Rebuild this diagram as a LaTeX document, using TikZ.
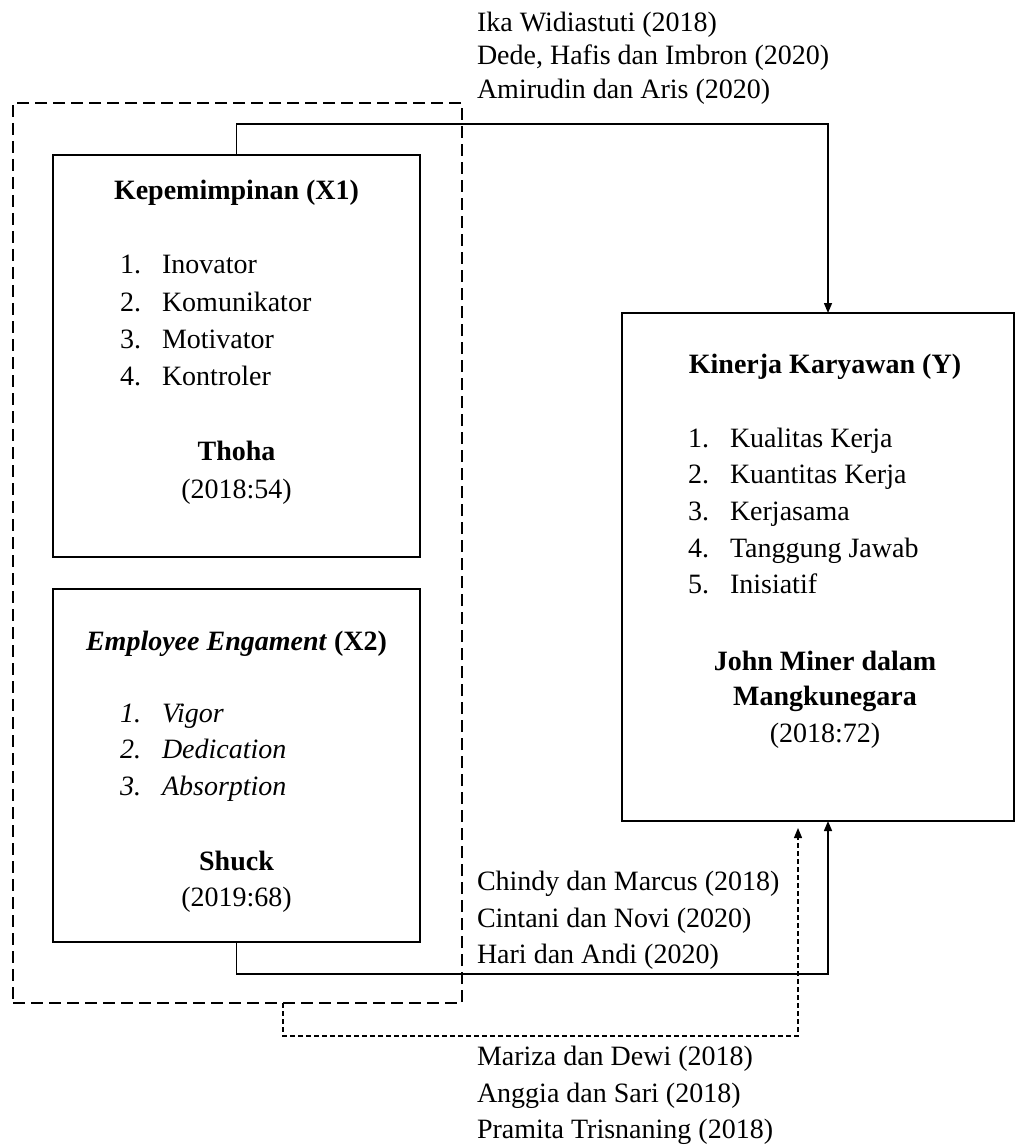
\documentclass[tikz,border=0pt]{standalone}
\usepackage{fontspec}
\setmainfont{Liberation Serif}
\usetikzlibrary{arrows.meta}
\newcommand{\num}[1]{\makebox[42pt][l]{#1}}
\begin{document}
\begin{tikzpicture}[x=1pt,y=-1pt,
  every node/.style={font=\fontsize{28}{34}\selectfont, inner sep=0pt, outer sep=0pt},
  boxnode/.style={draw=black, line width=1.5pt, rectangle},
  dbox/.style={draw=black, line width=1.3pt, dash pattern=on 12pt off 6pt, rectangle},
  lbl/.style={anchor=base west},
  ctr/.style={anchor=base},
  conn/.style={draw=black, line width=1.5pt},
  dconn/.style={draw=black, line width=1.2pt, dash pattern=on 5pt off 3pt},
  tip/.style={-{Triangle[length=10pt,width=8pt]}}
]
\useasboundingbox (0,0) rectangle (1025,1147);

% boxes
\node[dbox, minimum width=449pt, minimum height=900pt] (dgroup) at (237.5,553) {};
\node[boxnode, minimum width=367pt, minimum height=402pt] (x1) at (236.5,356) {};
\node[boxnode, minimum width=367pt, minimum height=353pt] (x2) at (236.5,765.5) {};
\node[boxnode, minimum width=392pt, minimum height=508pt] (y) at (818,567) {};

% X1 content
\node[ctr] (x1t) at (236.5,200) {\textbf{Kepemimpinan (X1)}};
\node[lbl] (x1a) at (120,273) {\num{1.}Inovator};
\node[lbl] (x1b) at (120,311) {\num{2.}Komunikator};
\node[lbl] (x1c) at (120,348) {\num{3.}Motivator};
\node[lbl] (x1d) at (120,385) {\num{4.}Kontroler};
\node[ctr] (x1s) at (236.5,460) {\textbf{Thoha}};
\node[ctr] (x1y) at (236.5,498) {(2018:54)};

% X2 content
\node[ctr] (x2t) at (236.5,650) {\textbf{\textit{Employee Engament} (X2)}};
\node[lbl] (x2a) at (120,722) {\itshape\num{1.}Vigor};
\node[lbl] (x2b) at (120,758) {\itshape\num{2.}Dedication};
\node[lbl] (x2c) at (120,795) {\itshape\num{3.}Absorption};
\node[ctr] (x2s) at (236.5,870) {\textbf{Shuck}};
\node[ctr] (x2y) at (236.5,906) {(2019:68)};

% Y content
\node[ctr] (yt) at (825,373) {\textbf{Kinerja Karyawan (Y)}};
\node[lbl] (ya) at (688,447) {\num{1.}Kualitas Kerja};
\node[lbl] (yb) at (688,483) {\num{2.}Kuantitas Kerja};
\node[lbl] (yc) at (688,520) {\num{3.}Kerjasama};
\node[lbl] (yd) at (688,557) {\num{4.}Tanggung Jawab};
\node[lbl] (ye) at (688,593) {\num{5.}Inisiatif};
\node[ctr] (ys1) at (825,670) {\textbf{John Miner dalam}};
\node[ctr] (ys2) at (825,705) {\textbf{Mangkunegara}};
\node[ctr] (yy) at (825,742) {(2018:72)};

% reference labels
\node[lbl] (r1) at (477,32) {Ika Widiastuti (2018)};
\node[lbl] (r2) at (477,65) {Dede, Hafis dan Imbron (2020)};
\node[lbl] (r3) at (477,99) {Amirudin dan Aris (2020)};
\node[lbl] (r4) at (477,890) {Chindy dan Marcus (2018)};
\node[lbl] (r5) at (477,927) {Cintani dan Novi (2020)};
\node[lbl] (r6) at (477,963) {Hari dan Andi (2020)};
\node[lbl] (r7) at (477,1065) {Mariza dan Dewi (2018)};
\node[lbl] (r8) at (477,1102) {Anggia dan Sari (2018)};
\node[lbl] (r9) at (477,1138) {Pramita Trisnaning (2018)};

% connectors
\draw[conn, tip] (x1.north) -- ++(0,-31) -| ([xshift=10pt]y.north);
\draw[conn, tip] (x2.south) -- ++(0,32) -| ([xshift=10pt]y.south);
\draw[dconn, tip] ([xshift=45.5pt]dgroup.south) -- ++(0,33) -| ([xshift=-20pt,yshift=-7pt]y.south);
\end{tikzpicture}
\end{document}
